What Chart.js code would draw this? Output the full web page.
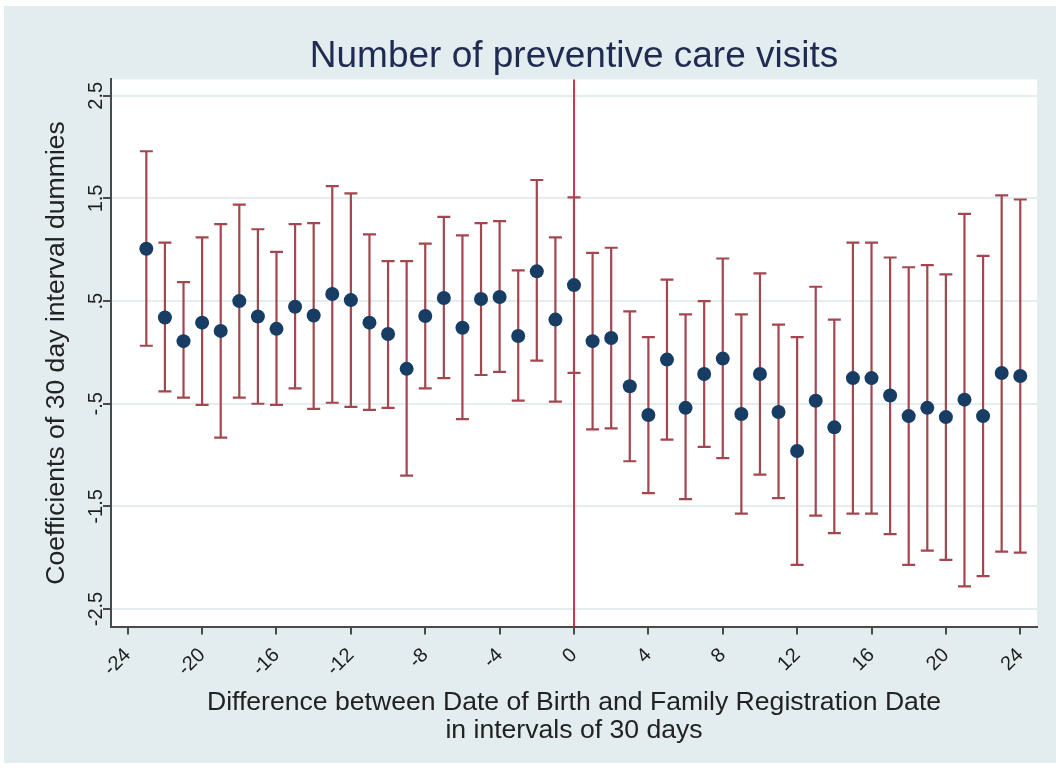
<!DOCTYPE html>
<html>
<head>
<meta charset="utf-8">
<title>Number of preventive care visits</title>
<script src="https://cdn.jsdelivr.net/npm/chart.js@4.4.0/dist/chart.umd.min.js"></script>
<style>
  html, body { margin: 0; padding: 0; background: #ffffff; }
  #wrap { width: 1056px; height: 770px; }
</style>
</head>
<body>
<div id="wrap"><canvas id="chart" width="1056" height="770"></canvas></div>
<script>
// 30-day intervals relative to the family registration date
const intervals = [
  -23, -22, -21, -20, -19, -18, -17, -16, -15, -14, -13, -12,
  -11, -10, -9, -8, -7, -6, -5, -4, -3, -2, -1, 0,
  1, 2, 3, 4, 5, 6, 7, 8, 9, 10, 11, 12,
  13, 14, 15, 16, 17, 18, 19, 20, 21, 22, 23, 24
];
// point estimates
const coefs = [
  1.01, 0.34, 0.11, 0.29, 0.21, 0.50, 0.35, 0.23, 0.445, 0.36, 0.57, 0.51,
  0.29, 0.18, -0.16, 0.355, 0.53, 0.24, 0.52, 0.54, 0.16, 0.79, 0.32, 0.656,
  0.11, 0.14, -0.33, -0.61, -0.07, -0.54, -0.21, -0.06, -0.60, -0.21, -0.58, -0.96,
  -0.47, -0.73, -0.25, -0.25, -0.42, -0.62, -0.54, -0.63, -0.46, -0.62, -0.20, -0.23
];
// confidence interval bounds
const upper = [
  1.96, 1.07, 0.685, 1.12, 1.25, 1.44, 1.20, 0.98, 1.25, 1.26, 1.62, 1.55,
  1.15, 0.89, 0.89, 1.06, 1.32, 1.14, 1.26, 1.28, 0.80, 1.68, 1.12, 1.51,
  0.97, 1.02, 0.40, 0.15, 0.71, 0.37, 0.50, 0.915, 0.37, 0.77, 0.27, 0.15,
  0.64, 0.32, 1.07, 1.07, 0.925, 0.83, 0.85, 0.76, 1.35, 0.94, 1.53, 1.49
];
const lower = [
  0.065, -0.38, -0.44, -0.51, -0.83, -0.44, -0.50, -0.51, -0.35, -0.55, -0.49, -0.53,
  -0.56, -0.54, -1.20, -0.35, -0.25, -0.65, -0.22, -0.19, -0.47, -0.08, -0.48, -0.20,
  -0.75, -0.74, -1.06, -1.37, -0.85, -1.43, -0.92, -1.03, -1.57, -1.19, -1.42, -2.07,
  -1.59, -1.76, -1.57, -1.57, -1.77, -2.07, -1.93, -2.02, -2.28, -2.18, -1.94, -1.95
];
const xTicks = [-24, -20, -16, -12, -8, -4, 0, 4, 8, 12, 16, 20, 24];
const yTicks = [2.5, 1.5, 0.5, -0.5, -1.5, -2.5];
const yTickLabels = ["2.5", "1.5", ".5", "-.5", "-1.5", "-2.5"];

const FONT = "'Liberation Sans', Arial, Helvetica, sans-serif";
const BG = "#e3ecee";
const AXIS = "#4a4a4a";

// gray graph region + white plot region
const backdrop = {
  id: "backdrop",
  beforeDraw(chart) {
    const { ctx, chartArea: a } = chart;
    ctx.save();
    ctx.fillStyle = "#ffffff";
    ctx.fillRect(0, 0, chart.width, chart.height);
    ctx.fillStyle = BG;
    ctx.fillRect(4, 6, chart.width - 4, chart.height - 13);
    ctx.fillStyle = "#ffffff";
    ctx.fillRect(a.left, a.top, a.right - a.left, a.bottom - a.top);
    ctx.restore();
  }
};

// reference line at 0 and the capped confidence intervals
const errorBars = {
  id: "errorBars",
  beforeDatasetsDraw(chart) {
    const { ctx, chartArea: a } = chart;
    const x = chart.scales.x;
    const y = chart.scales.y;
    ctx.save();
    const x0 = x.getPixelForValue(0);
    ctx.strokeStyle = "#d41c40";
    ctx.lineWidth = 1.8;
    ctx.beginPath();
    ctx.moveTo(x0, a.top);
    ctx.lineTo(x0, a.bottom);
    ctx.stroke();

    ctx.strokeStyle = "#a3464f";
    ctx.lineWidth = 2.2;
    intervals.forEach((t, i) => {
      const px = x.getPixelForValue(t);
      const hi = y.getPixelForValue(upper[i]);
      const lo = y.getPixelForValue(lower[i]);
      ctx.beginPath();
      ctx.moveTo(px, hi);
      ctx.lineTo(px, lo);
      ctx.moveTo(px - 6.5, hi);
      ctx.lineTo(px + 6.5, hi);
      ctx.moveTo(px - 6.5, lo);
      ctx.lineTo(px + 6.5, lo);
      ctx.stroke();
    });
    ctx.restore();
  }
};

const points = intervals.map((t, i) => ({ x: t, y: coefs[i] }));

new Chart(document.getElementById("chart"), {
  type: "scatter",
  data: {
    datasets: [
      {
        label: "Coefficient",
        data: points,
        backgroundColor: "#173d64",
        borderWidth: 0,
        pointRadius: 7,
        pointHoverRadius: 7
      }
    ]
  },
  options: {
    responsive: false,
    animation: false,
    layout: { padding: { left: 0, right: 19, top: 0, bottom: 0 } },
    plugins: {
      legend: { display: false },
      tooltip: { enabled: false },
      title: {
        display: true,
        text: "Number of preventive care visits",
        fullSize: false,
        color: "#1f2b50",
        font: { family: FONT, size: 37, weight: "normal", lineHeight: 1.2 },
        padding: { top: 35, bottom: 0 }
      }
    },
    scales: {
      x: {
        type: "linear",
        min: -24.9,
        max: 24.9,
        afterBuildTicks(scale) {
          scale.ticks = xTicks.map((v) => ({ value: v }));
        },
        afterFit(scale) {
          scale.height = 770 - 626.5;
        },
        grid: {
          drawOnChartArea: false,
          drawTicks: true,
          tickLength: 8,
          color: AXIS,
          lineWidth: 2
        },
        border: { display: true, color: AXIS, width: 2 },
        ticks: {
          minRotation: 45,
          maxRotation: 45,
          padding: 9,
          color: "#1e1e1e",
          font: { family: FONT, size: 20 }
        },
        title: {
          display: true,
          text: [
            "Difference between Date of Birth and Family Registration Date",
            "in intervals of 30 days"
          ],
          color: "#222222",
          font: { family: FONT, size: 26.6, lineHeight: 1.04 },
          padding: { top: 0, bottom: 26 }
        }
      },
      y: {
        type: "linear",
        min: -2.67,
        max: 2.66,
        afterBuildTicks(scale) {
          scale.ticks = yTicks.map((v) => ({ value: v }));
        },
        afterFit(scale) {
          scale.width = 111;
        },
        grid: {
          drawOnChartArea: true,
          drawTicks: true,
          tickLength: 8,
          color: "#e5eeef",
          tickColor: AXIS,
          lineWidth: 2
        },
        border: { display: true, color: AXIS, width: 2 },
        ticks: {
          minRotation: 90,
          maxRotation: 90,
          crossAlign: "center",
          padding: -11,
          color: "#1e1e1e",
          font: { family: FONT, size: 20 },
          callback: (v) => {
            const i = yTicks.indexOf(v);
            return i >= 0 ? yTickLabels[i] : "";
          }
        },
        title: {
          display: true,
          text: "Coefficients of 30 day interval dummies",
          color: "#222222",
          font: { family: FONT, size: 26.6 },
          padding: { top: 41, bottom: 0 }
        }
      }
    }
  },
  plugins: [backdrop, errorBars]
});
</script>
</body>
</html>
